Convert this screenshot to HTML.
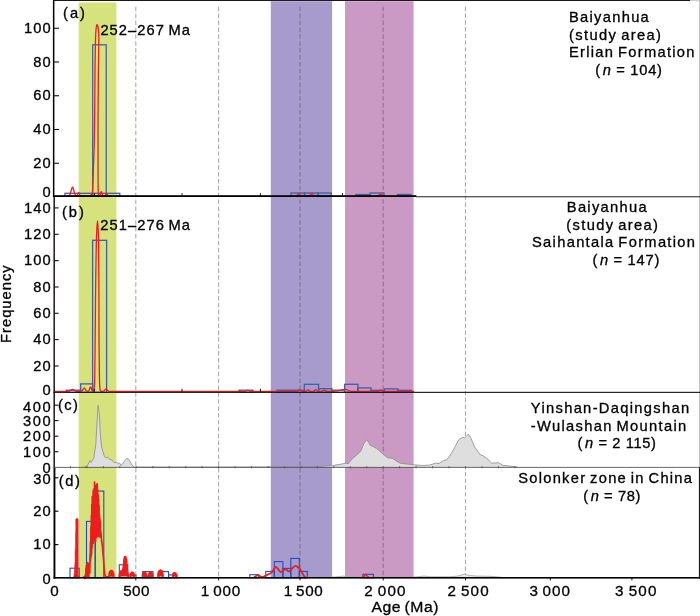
<!DOCTYPE html>
<html><head><meta charset="utf-8"><title>chart</title><style>html,body{margin:0;padding:0;background:#fff}svg{display:block;will-change:transform;font-family:"Liberation Sans",sans-serif}text{fill:#000;stroke:#000;stroke-width:0.3px;word-spacing:-1.5px}</style></head><body>
<svg width="700" height="616" viewBox="0 0 700 616" font-family="Liberation Sans, sans-serif" fill="#111">
<rect width="700" height="616" fill="#fff"/>
<rect x="78.7" y="2.5" width="37.70" height="574.5" fill="#d6e27c"/>
<rect x="270.8" y="1.2" width="61.30" height="575.8" fill="#a79bcd"/>
<rect x="345" y="1.2" width="68.60" height="575.8" fill="#cb9ac4"/>
<line x1="135.8" y1="6.8" x2="135.8" y2="577" stroke="#444" stroke-opacity="0.45" stroke-width="1.1" stroke-dasharray="4.448 2.438"/>
<line x1="218.6" y1="6.8" x2="218.6" y2="577" stroke="#444" stroke-opacity="0.45" stroke-width="1.1" stroke-dasharray="4.448 2.438"/>
<line x1="300" y1="6.8" x2="300" y2="577" stroke="#444" stroke-opacity="0.45" stroke-width="1.1" stroke-dasharray="4.448 2.438"/>
<line x1="383.2" y1="6.8" x2="383.2" y2="577" stroke="#444" stroke-opacity="0.45" stroke-width="1.1" stroke-dasharray="4.441 2.434"/>
<line x1="465.5" y1="6.8" x2="465.5" y2="577" stroke="#444" stroke-opacity="0.45" stroke-width="1.1" stroke-dasharray="4.355 2.387"/>
<rect x="92.7" y="44.8" width="13.50" height="151.30" fill="none" stroke="#3f5ea6" stroke-width="1.25"/>
<rect x="65" y="193.3" width="54.80" height="2.80" fill="none" stroke="#3f5ea6" stroke-width="1.3"/>
<rect x="291" y="193" width="13.50" height="3.10" fill="none" stroke="#3f5ea6" stroke-width="1.3"/>
<rect x="304.5" y="193" width="13.50" height="3.10" fill="none" stroke="#3f5ea6" stroke-width="1.3"/>
<rect x="318" y="193" width="13.30" height="3.10" fill="none" stroke="#3f5ea6" stroke-width="1.3"/>
<rect x="356" y="194.5" width="14.00" height="1.60" fill="none" stroke="#3f5ea6" stroke-width="1.3"/>
<rect x="370" y="193" width="14.00" height="3.10" fill="none" stroke="#3f5ea6" stroke-width="1.3"/>
<rect x="397.5" y="194.5" width="13.50" height="1.60" fill="none" stroke="#3f5ea6" stroke-width="1.3"/>
<path d="M66.00,195.90 L68.30,195.83 L69.00,195.59 L69.70,194.88 L70.40,193.28 L71.10,190.76 L71.80,188.21 L72.50,187.10 L73.20,188.21 L73.90,190.76 L74.60,193.28 L75.30,194.88 L76.00,195.59 L76.70,195.83 L76.20,195.87 L76.60,195.78 L77.00,195.50 L77.40,194.89 L77.80,193.91 L78.20,192.93 L78.60,192.50 L79.00,192.93 L79.40,193.91 L79.80,194.89 L80.20,195.50 L80.60,195.78 L81.00,195.87 L89.50,195.90" fill="none" stroke="#ee1d1d" stroke-width="1.3" stroke-linejoin="round" stroke-linecap="round" />
<path d="M89.50,195.90 C89.70,195.80 90.28,195.70 90.70,195.30 C91.12,194.90 91.67,194.60 92.00,193.50 C92.33,192.40 92.47,192.78 92.70,188.70 C92.93,184.62 93.13,177.12 93.40,169.00 C93.67,160.88 94.07,151.50 94.30,140.00 C94.53,128.50 94.68,111.17 94.80,100.00 C94.92,88.83 94.90,82.33 95.00,73.00 C95.10,63.67 95.23,51.17 95.40,44.00 C95.57,36.83 95.73,33.22 96.00,30.00 C96.27,26.78 96.65,25.12 97.00,24.70 C97.35,24.28 97.82,26.12 98.10,27.50 C98.38,28.88 98.58,30.25 98.70,33.00 C98.82,35.75 98.85,37.33 98.80,44.00 C98.75,50.67 98.52,62.00 98.40,73.00 C98.28,84.00 98.17,97.17 98.10,110.00 C98.03,122.83 98.00,137.50 98.00,150.00 C98.00,162.50 98.03,177.75 98.10,185.00 C98.17,192.25 98.25,191.68 98.40,193.50 C98.55,195.32 98.90,195.50 99.00,195.90" fill="none" stroke="#ee1d1d" stroke-width="1.3" stroke-linecap="round" stroke-linejoin="round"/>
<path d="M99.00,195.90 L99.10,195.87 L99.47,195.75 L99.83,195.41 L100.20,194.65 L100.57,193.45 L100.93,192.23 L101.30,191.70 L101.67,192.23 L102.03,193.45 L102.40,194.65 L102.77,195.41 L103.13,195.75 L103.50,195.87 L104.30,195.88 L104.67,195.80 L105.03,195.57 L105.40,195.07 L105.77,194.26 L106.13,193.45 L106.50,193.10 L106.87,193.45 L107.23,194.26 L107.60,195.07 L107.97,195.57 L108.33,195.80 L108.70,195.88 L110.00,195.90" fill="none" stroke="#ee1d1d" stroke-width="1.3" stroke-linejoin="round" stroke-linecap="round" />
<path d="M295.30,195.88 L295.88,195.82 L296.47,195.64 L297.05,195.24 L297.63,194.62 L298.22,193.98 L298.80,193.70 L299.38,193.98 L299.97,194.62 L300.55,195.24 L301.13,195.64 L301.72,195.82 L302.30,195.88" fill="none" stroke="#ee1d1d" stroke-width="1.3" stroke-linejoin="round" stroke-linecap="round" />
<path d="M308.30,195.88 L308.88,195.82 L309.47,195.62 L310.05,195.18 L310.63,194.50 L311.22,193.80 L311.80,193.50 L312.38,193.80 L312.97,194.50 L313.55,195.18 L314.13,195.62 L314.72,195.82 L315.30,195.88" fill="none" stroke="#ee1d1d" stroke-width="1.3" stroke-linejoin="round" stroke-linecap="round" />
<path d="M377.00,195.88 L377.58,195.83 L378.17,195.67 L378.75,195.30 L379.33,194.73 L379.92,194.15 L380.50,193.90 L381.08,194.15 L381.67,194.73 L382.25,195.30 L382.83,195.67 L383.42,195.83 L384.00,195.88" fill="none" stroke="#ee1d1d" stroke-width="1.3" stroke-linejoin="round" stroke-linecap="round" />
<rect x="66.4" y="390.2" width="14.30" height="2.10" fill="none" stroke="#3f5ea6" stroke-width="1.3"/>
<rect x="80.7" y="383.9" width="11.90" height="8.40" fill="none" stroke="#3f5ea6" stroke-width="1.3"/>
<rect x="92.6" y="240.3" width="14.00" height="152.00" fill="none" stroke="#3f5ea6" stroke-width="1.3"/>
<rect x="238.9" y="390.2" width="14.00" height="2.10" fill="none" stroke="#3f5ea6" stroke-width="1.3"/>
<rect x="277.1" y="390.2" width="27.20" height="2.10" fill="none" stroke="#3f5ea6" stroke-width="1.3"/>
<rect x="304.3" y="384.3" width="14.30" height="8.00" fill="none" stroke="#3f5ea6" stroke-width="1.3"/>
<rect x="318.6" y="388.7" width="13.30" height="3.60" fill="none" stroke="#3f5ea6" stroke-width="1.3"/>
<rect x="331.9" y="390.2" width="12.70" height="2.10" fill="none" stroke="#3f5ea6" stroke-width="1.3"/>
<rect x="344.6" y="384.3" width="13.30" height="8.00" fill="none" stroke="#3f5ea6" stroke-width="1.3"/>
<rect x="357.9" y="387.9" width="13.10" height="4.40" fill="none" stroke="#3f5ea6" stroke-width="1.3"/>
<rect x="371" y="390.3" width="13.30" height="2.00" fill="none" stroke="#3f5ea6" stroke-width="1.3"/>
<rect x="384.3" y="388.9" width="13.60" height="3.40" fill="none" stroke="#3f5ea6" stroke-width="1.3"/>
<rect x="397.9" y="390.3" width="13.50" height="2.00" fill="none" stroke="#3f5ea6" stroke-width="1.3"/>
<path d="M54.50,391.30 L67.00,391.30 L68.00,391.28 L68.75,391.23 L69.50,391.07 L70.25,390.70 L71.00,390.13 L71.75,389.55 L72.50,389.30 L73.25,389.55 L74.00,390.13 L74.75,390.70 L75.50,391.07 L76.25,391.23 L77.00,391.28 L80.60,391.27 L81.20,391.19 L81.80,390.93 L82.40,390.35 L83.00,389.43 L83.60,388.50 L84.20,388.10 L84.80,388.50 L85.40,389.43 L86.00,390.35 L86.60,390.93 L87.20,391.19 L87.80,391.27 L87.90,391.27 L88.33,391.15 L88.77,390.79 L89.20,389.99 L89.63,388.73 L90.07,387.45 L90.50,386.90 L90.93,387.45 L91.37,388.73 L91.80,389.99 L92.23,390.79 L92.67,391.15 L93.10,391.27 L92.90,391.30" fill="none" stroke="#ee1d1d" stroke-width="1.3" stroke-linejoin="round" stroke-linecap="round" />
<path d="M92.90,391.30 C93.02,391.18 93.37,391.32 93.60,390.60 C93.83,389.88 94.10,389.77 94.30,387.00 C94.50,384.23 94.65,382.67 94.80,374.00 C94.95,365.33 95.07,349.00 95.20,335.00 C95.33,321.00 95.42,305.17 95.60,290.00 C95.78,274.83 96.08,254.33 96.30,244.00 C96.52,233.67 96.70,231.87 96.90,228.00 C97.10,224.13 97.30,220.80 97.50,220.80 C97.70,220.80 97.92,224.13 98.10,228.00 C98.28,231.87 98.47,233.67 98.60,244.00 C98.73,254.33 98.83,274.83 98.90,290.00 C98.97,305.17 98.92,321.00 99.00,335.00 C99.08,349.00 99.28,365.50 99.40,374.00 C99.52,382.50 99.55,383.23 99.70,386.00 C99.85,388.77 100.08,389.72 100.30,390.60 C100.52,391.48 100.88,391.18 101.00,391.30" fill="none" stroke="#ee1d1d" stroke-width="1.3" stroke-linecap="round" stroke-linejoin="round"/>
<path d="M101.00,391.30 L102.60,391.28 L103.17,391.22 L103.73,391.03 L104.30,390.61 L104.87,389.96 L105.43,389.29 L106.00,389.00 L106.57,389.29 L107.13,389.96 L107.70,390.61 L108.27,391.03 L108.83,391.22 L109.40,391.28 L240.00,391.30 L244.90,391.29 L245.40,391.27 L245.90,391.21 L246.40,391.06 L246.90,390.83 L247.40,390.60 L247.90,390.50 L248.40,390.60 L248.90,390.83 L249.40,391.06 L249.90,391.21 L250.40,391.27 L250.90,391.29 L296.60,391.29 L297.10,391.24 L297.60,391.11 L298.10,390.82 L298.60,390.37 L299.10,389.90 L299.60,389.70 L300.10,389.90 L300.60,390.37 L301.10,390.82 L301.60,391.11 L302.10,391.24 L302.60,391.29 L304.90,391.29 L305.40,391.25 L305.90,391.13 L306.40,390.85 L306.90,390.42 L307.40,389.99 L307.90,389.80 L308.40,389.99 L308.90,390.42 L309.40,390.85 L309.90,391.13 L310.40,391.25 L310.90,391.29 L312.70,391.29 L313.20,391.24 L313.70,391.11 L314.20,390.82 L314.70,390.37 L315.20,389.90 L315.70,389.70 L316.20,389.90 L316.70,390.37 L317.20,390.82 L317.70,391.11 L318.20,391.24 L318.70,391.29 L321.30,391.29 L321.80,391.25 L322.30,391.15 L322.80,390.91 L323.30,390.54 L323.80,390.16 L324.30,390.00 L324.80,390.16 L325.30,390.54 L325.80,390.91 L326.30,391.15 L326.80,391.25 L327.30,391.29 L333.00,391.30 L337.00,390.80 L341.00,390.20 L343.50,389.50 L345.00,389.00 L346.50,389.50 L348.50,390.50 L351.00,391.30 L377.70,391.29 L378.20,391.25 L378.70,391.15 L379.20,390.91 L379.70,390.54 L380.20,390.16 L380.70,390.00 L381.20,390.16 L381.70,390.54 L382.20,390.91 L382.70,391.15 L383.20,391.25 L383.70,391.29 L413.60,391.30" fill="none" stroke="#ee1d1d" stroke-width="1.3" stroke-linejoin="round" stroke-linecap="round" />
<path d="M84.1,467.1 L87.3,465.8 L89.9,460.6 L91.2,462.5 L93.8,458 L95.8,444.4 L97.1,421 L98.1,405.4 L99.4,414.5 L100.3,434 L101.6,446.9 L102.9,451.5 L104.2,456 L106.2,458 L107.5,457.1 L109.4,459.3 L112,459.9 L114,462.5 L116.6,462.3 L118.5,463.8 L119.5,462.8 L121.1,465.5 L124.4,461.2 L127.3,458 L129.5,460.6 L132.1,465.1 L134.1,467.1 L160,467.1 L250,467.0 L300,466.8 L320,466.6 L332.6,465.5 L340.4,464.3 L345.9,463.2 L348.3,463.8 L351.4,459.6 L356.9,454.9 L360.9,450.9 L364,443.1 L367.1,439.6 L370.3,445.4 L373.4,446.7 L376.6,448.6 L379.7,450.9 L382.9,454.1 L387.6,457.7 L392.3,458.3 L395.4,460.4 L400.1,463.2 L406.4,464 L414.3,464.8 L422.1,465.5 L429.4,465.1 L435.7,463.2 L438.9,463.5 L443.6,460.4 L446.7,459.9 L451.4,453.3 L455.4,446.2 L458.5,439.9 L462.4,437.3 L464.8,437.9 L468.4,434.1 L471.1,438.4 L474.2,446.2 L477.4,450.9 L480.5,454.9 L482.9,455.6 L488.4,459.6 L491.5,463.2 L498.6,462.7 L503.3,465.4 L511.1,466.2 L517.4,467.1 L517.4,467.3 L84.1,467.3 Z" fill="#dedede" stroke="none"/>
<path d="M84.10,467.10 L87.30,465.80 L89.90,460.60 L91.20,462.50 L93.80,458.00 L95.80,444.40 L97.10,421.00 L98.10,405.40 L99.40,414.50 L100.30,434.00 L101.60,446.90 L102.90,451.50 L104.20,456.00 L106.20,458.00 L107.50,457.10 L109.40,459.30 L112.00,459.90 L114.00,462.50 L116.60,462.30 L118.50,463.80 L119.50,462.80 L121.10,465.50 L124.40,461.20 L127.30,458.00 L129.50,460.60 L132.10,465.10 L134.10,467.10 L160.00,467.10 L250.00,467.00 L300.00,466.80 L320.00,466.60 L332.60,465.50 L340.40,464.30 L345.90,463.20 L348.30,463.80 L351.40,459.60 L356.90,454.90 L360.90,450.90 L364.00,443.10 L367.10,439.60 L370.30,445.40 L373.40,446.70 L376.60,448.60 L379.70,450.90 L382.90,454.10 L387.60,457.70 L392.30,458.30 L395.40,460.40 L400.10,463.20 L406.40,464.00 L414.30,464.80 L422.10,465.50 L429.40,465.10 L435.70,463.20 L438.90,463.50 L443.60,460.40 L446.70,459.90 L451.40,453.30 L455.40,446.20 L458.50,439.90 L462.40,437.30 L464.80,437.90 L468.40,434.10 L471.10,438.40 L474.20,446.20 L477.40,450.90 L480.50,454.90 L482.90,455.60 L488.40,459.60 L491.50,463.20 L498.60,462.70 L503.30,465.40 L511.10,466.20 L517.40,467.10" fill="none" stroke="#8a8a8a" stroke-width="0.8" stroke-linejoin="round" stroke-linecap="round" />
<path d="M330.00,577.20 L338.00,576.80 L343.00,576.00 L348.00,576.80 L415.00,577.00 L420.00,576.60 L424.00,576.00 L430.00,576.80 L450.00,576.80 L458.00,576.00 L462.00,574.80 L464.50,574.20 L468.00,575.20 L476.00,576.00 L490.00,576.30 L501.00,577.20" fill="#e6e6e6" stroke="#9a9a9a" stroke-width="0.7" stroke-linejoin="round" stroke-linecap="round" />
<rect x="70" y="568.2" width="9.20" height="9.60" fill="none" stroke="#1d4fc4" stroke-width="1.1"/>
<rect x="86.5" y="521.4" width="8.70" height="56.40" fill="none" stroke="#1d4fc4" stroke-width="1.1"/>
<rect x="95.2" y="491.1" width="8.60" height="86.70" fill="none" stroke="#1d4fc4" stroke-width="1.1"/>
<rect x="119.3" y="564.8" width="8.50" height="13.00" fill="none" stroke="#1d4fc4" stroke-width="1.1"/>
<rect x="127.8" y="575" width="8.20" height="2.80" fill="none" stroke="#1d4fc4" stroke-width="1.1"/>
<rect x="142.7" y="571.6" width="10.30" height="6.20" fill="none" stroke="#1d4fc4" stroke-width="1.1"/>
<rect x="158.7" y="571.6" width="9.90" height="6.20" fill="none" stroke="#1d4fc4" stroke-width="1.1"/>
<rect x="168.6" y="574.9" width="8.40" height="2.90" fill="none" stroke="#1d4fc4" stroke-width="1.1"/>
<rect x="249.8" y="574.7" width="8.80" height="3.10" fill="none" stroke="#1d4fc4" stroke-width="1.1"/>
<rect x="265.8" y="571.4" width="8.50" height="6.40" fill="none" stroke="#1d4fc4" stroke-width="1.1"/>
<rect x="274.3" y="561.6" width="8.60" height="16.20" fill="none" stroke="#1d4fc4" stroke-width="1.1"/>
<rect x="282.9" y="568.4" width="7.90" height="9.40" fill="none" stroke="#1d4fc4" stroke-width="1.1"/>
<rect x="290.8" y="558.4" width="8.50" height="19.40" fill="none" stroke="#1d4fc4" stroke-width="1.1"/>
<rect x="299.3" y="571.4" width="8.00" height="6.40" fill="none" stroke="#1d4fc4" stroke-width="1.1"/>
<rect x="362.9" y="574.3" width="10.50" height="3.50" fill="none" stroke="#1d4fc4" stroke-width="1.1"/>
<path d="M73.70,577.00 L74.40,572.00 L74.70,566.00 L75.10,560.00 L75.00,552.00 L75.50,545.00 L75.40,536.00 L75.80,528.00 L75.70,519.60 L76.20,518.60 L77.80,518.60 L78.20,519.60 L78.30,574.80 L78.90,577.00 Z" fill="#ee1d1d" stroke="#ee1d1d" stroke-width="0.5" stroke-linejoin="round"/>
<path d="M84.00,576.80 L84.40,576.60 L84.62,578.39 L84.85,576.60 L85.07,578.31 L85.30,576.07 L85.52,574.69 L85.75,574.94 L85.97,568.16 L86.20,575.53 L86.42,565.30 L86.65,576.60 L86.87,564.47 L87.10,572.39 L87.32,566.21 L87.55,576.60 L87.77,562.71 L88.00,571.20 L88.22,565.65 L88.45,574.60 L88.67,564.15 L88.90,576.41 L89.12,566.25 L89.35,573.46 L89.57,564.22 L89.80,572.91 L90.02,554.60 L90.25,562.18 L90.47,542.16 L90.70,559.01 L90.92,527.07 L91.15,555.99 L91.37,515.55 L91.60,553.79 L91.82,504.55 L92.05,547.96 L92.27,496.52 L92.50,543.29 L92.72,497.36 L92.95,541.39 L93.17,491.11 L93.40,543.03 L93.62,489.13 L93.85,539.19 L94.07,488.76 L94.30,539.55 L94.52,482.12 L94.75,536.50 L94.97,485.12 L95.20,540.55 L95.42,487.50 L95.65,541.27 L95.87,490.26 L96.10,535.54 L96.32,486.38 L96.55,537.09 L96.77,484.42 L97.00,535.05 L97.22,483.69 L97.45,535.22 L97.67,489.66 L97.90,536.69 L98.12,494.74 L98.35,533.85 L98.57,499.50 L98.80,535.56 L99.02,505.51 L99.25,532.87 L99.47,514.91 L99.70,536.33 L99.92,518.57 L100.15,537.25 L100.37,521.76 L100.30,530.00 L101.10,534.00 L101.60,541.00 L102.40,546.00 L102.80,552.00 L103.60,560.00 L104.20,569.00 L104.80,574.50 L105.60,576.80" fill="none" stroke="#ee1d1d" stroke-width="1.7" stroke-linejoin="round" stroke-linecap="round" />
<path d="M109.30,576.40 L109.35,574.72 L109.51,573.53 L109.76,572.56 L110.09,571.80 L110.49,571.25 L110.93,570.91 L111.40,570.80 L111.87,570.91 L112.31,571.25 L112.71,571.80 L113.04,572.56 L113.29,573.53 L113.45,574.72 L113.50,576.40" fill="#ee1d1d" stroke="#ee1d1d" stroke-width="2.2" stroke-linejoin="round" stroke-linecap="round"/>
<path d="M119.60,576.40 L119.90,573.00 L121.00,571.20 L122.60,571.50 L123.60,567.00 L124.20,560.00 L124.80,557.00 L125.60,557.00 L126.40,561.00 L126.80,568.00 L127.40,572.00 L128.20,576.40" fill="#ee1d1d" stroke="#ee1d1d" stroke-width="2.2" stroke-linejoin="round" stroke-linecap="round"/>
<path d="M130.60,576.40 L130.64,575.26 L130.77,574.45 L130.97,573.80 L131.24,573.28 L131.56,572.90 L131.92,572.68 L132.30,572.60 L132.68,572.68 L133.04,572.90 L133.36,573.28 L133.63,573.80 L133.83,574.45 L133.96,575.26 L134.00,576.40" fill="#ee1d1d" stroke="#ee1d1d" stroke-width="2.2" stroke-linejoin="round" stroke-linecap="round"/>
<path d="M142.70,576.40 L142.75,575.23 L142.88,574.40 L143.09,573.73 L143.38,573.20 L143.72,572.81 L144.10,572.58 L144.50,572.50 L144.90,572.58 L145.28,572.81 L145.62,573.20 L145.91,573.73 L146.12,574.40 L146.25,575.23 L146.30,576.40" fill="#ee1d1d" stroke="#ee1d1d" stroke-width="2.2" stroke-linejoin="round" stroke-linecap="round"/>
<path d="M148.80,576.40 L148.85,575.23 L148.98,574.40 L149.19,573.73 L149.48,573.20 L149.82,572.81 L150.20,572.58 L150.60,572.50 L151.00,572.58 L151.38,572.81 L151.72,573.20 L152.01,573.73 L152.22,574.40 L152.35,575.23 L152.40,576.40" fill="#ee1d1d" stroke="#ee1d1d" stroke-width="2.2" stroke-linejoin="round" stroke-linecap="round"/>
<path d="M142.80,576.40 L152.40,576.40" fill="#ee1d1d" stroke="#ee1d1d" stroke-width="1.6" stroke-linejoin="round" stroke-linecap="round"/>
<path d="M158.20,576.40 L158.26,574.60 L158.43,573.32 L158.70,572.29 L159.07,571.47 L159.50,570.88 L159.99,570.52 L160.50,570.40 L161.01,570.52 L161.50,570.88 L161.93,571.47 L162.30,572.29 L162.57,573.32 L162.74,574.60 L162.80,576.40" fill="#ee1d1d" stroke="#ee1d1d" stroke-width="2.2" stroke-linejoin="round" stroke-linecap="round"/>
<path d="M172.90,576.40 L172.94,575.38 L173.06,574.66 L173.25,574.07 L173.50,573.61 L173.81,573.27 L174.14,573.07 L174.50,573.00 L174.86,573.07 L175.19,573.27 L175.50,573.61 L175.75,574.07 L175.94,574.66 L176.06,575.38 L176.10,576.40" fill="#ee1d1d" stroke="#ee1d1d" stroke-width="2.2" stroke-linejoin="round" stroke-linecap="round"/>
<path d="M105.60,576.80 L108.50,576.80" fill="none" stroke="#ee1d1d" stroke-width="1.6" stroke-linejoin="round" stroke-linecap="round" />
<path d="M254.30,577.20 C254.58,577.00 255.40,576.37 256.00,576.00 C256.60,575.63 257.27,575.00 257.90,575.00 C258.53,575.00 259.22,575.67 259.80,576.00 C260.38,576.33 260.70,576.90 261.40,577.00 C262.10,577.10 263.07,576.93 264.00,576.60 C264.93,576.27 266.08,575.47 267.00,575.00 C267.92,574.53 268.77,574.18 269.50,573.80 C270.23,573.42 270.73,573.33 271.40,572.70 C272.07,572.07 272.78,570.95 273.50,570.00 C274.22,569.05 274.95,567.17 275.70,567.00 C276.45,566.83 277.17,568.17 278.00,569.00 C278.83,569.83 279.87,571.75 280.70,572.00 C281.53,572.25 282.28,570.95 283.00,570.50 C283.72,570.05 284.30,569.35 285.00,569.30 C285.70,569.25 286.48,569.85 287.20,570.20 C287.92,570.55 288.50,571.68 289.30,571.40 C290.10,571.12 291.05,569.40 292.00,568.50 C292.95,567.60 294.07,566.25 295.00,566.00 C295.93,565.75 296.77,566.45 297.60,567.00 C298.43,567.55 299.22,568.30 300.00,569.30 C300.78,570.30 301.63,571.88 302.30,573.00 C302.97,574.12 303.43,575.27 304.00,576.00 C304.57,576.73 305.42,577.17 305.70,577.40" fill="none" stroke="#ee1d1d" stroke-width="1.8" stroke-linecap="round"/>
<path d="M363.10,576.78 L363.53,576.71 L363.97,576.50 L364.40,576.02 L364.83,575.28 L365.27,574.53 L365.70,574.20 L366.13,574.53 L366.57,575.28 L367.00,576.02 L367.43,576.50 L367.87,576.71 L368.30,576.78" fill="none" stroke="#ee1d1d" stroke-width="1.4" stroke-linejoin="round" stroke-linecap="round" />
<rect x="53" y="0" width="637" height="0.9" fill="#000"/>
<rect x="690" y="0.3" width="10" height="0.8" fill="#bbb"/>
<rect x="699.1" y="1" width="0.9" height="466" fill="#bdbdbd"/>
<rect x="698.9" y="467" width="1.1" height="111.6" fill="#1a1a1a"/>
<rect x="52.9" y="0" width="1.5" height="197" fill="#000"/>
<rect x="53.4" y="197" width="1.6" height="270.3" fill="#2e2525"/>
<rect x="53.5" y="467.3" width="1.9" height="111.2999999999999" fill="#000"/>
<rect x="53" y="195.2" width="363.4" height="1.8" fill="#000"/>
<rect x="416" y="196.2" width="284" height="1.1" fill="#333"/>
<rect x="53.5" y="391.8" width="646.5" height="1.1" fill="#111"/>
<rect x="53.5" y="466.9" width="646.5" height="0.8" fill="#444"/>
<rect x="53.5" y="577" width="646.5" height="1.6" fill="#000"/>
<rect x="54" y="27.7" width="5" height="1.1" fill="#111"/>
<rect x="54" y="61.45" width="5" height="1.1" fill="#111"/>
<rect x="54" y="95.2" width="5" height="1.1" fill="#111"/>
<rect x="54" y="128.95" width="5" height="1.1" fill="#111"/>
<rect x="54" y="162.7" width="5" height="1.1" fill="#111"/>
<rect x="54" y="207.35" width="4.600000000000001" height="1.1" fill="#111"/>
<rect x="54" y="233.75" width="4.600000000000001" height="1.1" fill="#111"/>
<rect x="54" y="260.05" width="4.600000000000001" height="1.1" fill="#111"/>
<rect x="54" y="286.45" width="4.600000000000001" height="1.1" fill="#111"/>
<rect x="54" y="312.75" width="4.600000000000001" height="1.1" fill="#111"/>
<rect x="54" y="339.05" width="4.600000000000001" height="1.1" fill="#111"/>
<rect x="54" y="365.45" width="4.600000000000001" height="1.1" fill="#111"/>
<rect x="54" y="404.65" width="4.399999999999999" height="1.1" fill="#111"/>
<rect x="54" y="420.05" width="4.399999999999999" height="1.1" fill="#111"/>
<rect x="54" y="435.65" width="4.399999999999999" height="1.1" fill="#111"/>
<rect x="54" y="451.15" width="4.399999999999999" height="1.1" fill="#111"/>
<rect x="54" y="477.25" width="4.399999999999999" height="1.1" fill="#000"/>
<rect x="54" y="510.65" width="4.399999999999999" height="1.1" fill="#000"/>
<rect x="54" y="544.0500000000001" width="4.399999999999999" height="1.1" fill="#000"/>
<rect x="93.9" y="193.2" width="1" height="2.4" fill="#111"/>
<rect x="93.9" y="388.8" width="1" height="3" fill="#111"/>
<rect x="181.5" y="193.2" width="1" height="2.4" fill="#111"/>
<rect x="181.5" y="388.8" width="1" height="3" fill="#111"/>
<rect x="259.9" y="193.2" width="1" height="2.4" fill="#111"/>
<rect x="259.9" y="388.8" width="1" height="3" fill="#111"/>
<rect x="342.0" y="193.2" width="1" height="2.4" fill="#111"/>
<rect x="69.96" y="466.2" width="1" height="2.0" fill="#555"/>
<rect x="86.42" y="466.2" width="1" height="2.0" fill="#555"/>
<rect x="102.88" y="466.2" width="1" height="2.0" fill="#555"/>
<rect x="119.34" y="466.2" width="1" height="2.0" fill="#555"/>
<rect x="135.80" y="466.2" width="1" height="2.0" fill="#555"/>
<rect x="152.26" y="466.2" width="1" height="2.0" fill="#555"/>
<rect x="168.72" y="466.2" width="1" height="2.0" fill="#555"/>
<rect x="185.18" y="466.2" width="1" height="2.0" fill="#555"/>
<rect x="201.64" y="466.2" width="1" height="2.0" fill="#555"/>
<rect x="218.10" y="466.2" width="1" height="2.0" fill="#555"/>
<rect x="234.56" y="466.2" width="1" height="2.0" fill="#555"/>
<rect x="251.02" y="466.2" width="1" height="2.0" fill="#555"/>
<rect x="267.48" y="466.2" width="1" height="2.0" fill="#555"/>
<rect x="283.94" y="466.2" width="1" height="2.0" fill="#555"/>
<rect x="300.40" y="466.2" width="1" height="2.0" fill="#555"/>
<rect x="316.86" y="466.2" width="1" height="2.0" fill="#555"/>
<rect x="333.32" y="466.2" width="1" height="2.0" fill="#555"/>
<rect x="349.78" y="466.2" width="1" height="2.0" fill="#555"/>
<rect x="366.24" y="466.2" width="1" height="2.0" fill="#555"/>
<rect x="382.70" y="466.2" width="1" height="2.0" fill="#555"/>
<rect x="399.16" y="466.2" width="1" height="2.0" fill="#555"/>
<rect x="415.62" y="466.2" width="1" height="2.0" fill="#555"/>
<rect x="432.08" y="466.2" width="1" height="2.0" fill="#555"/>
<rect x="448.54" y="466.2" width="1" height="2.0" fill="#555"/>
<rect x="465.00" y="466.2" width="1" height="2.0" fill="#555"/>
<rect x="481.46" y="466.2" width="1" height="2.0" fill="#555"/>
<rect x="497.92" y="466.2" width="1" height="2.0" fill="#555"/>
<rect x="514.38" y="466.2" width="1" height="2.0" fill="#555"/>
<rect x="135.3" y="578" width="1" height="2.4" fill="#111"/>
<rect x="218.1" y="578" width="1" height="2.4" fill="#111"/>
<rect x="299.5" y="578" width="1" height="2.4" fill="#111"/>
<rect x="382.7" y="578" width="1" height="2.4" fill="#111"/>
<rect x="465.0" y="578" width="1" height="2.4" fill="#111"/>
<rect x="549.8" y="578" width="1" height="2.4" fill="#111"/>
<rect x="631.4" y="578" width="1" height="2.4" fill="#111"/>
<text transform="translate(24.10,32.95) scale(1.05,1)" font-size="14" textLength="25.33" lengthAdjust="spacing" >100</text>
<text transform="translate(33.30,66.7) scale(1.05,1)" font-size="14" textLength="16.57" lengthAdjust="spacing" >80</text>
<text transform="translate(33.30,100.45) scale(1.05,1)" font-size="14" textLength="16.57" lengthAdjust="spacing" >60</text>
<text transform="translate(33.30,134.2) scale(1.05,1)" font-size="14" textLength="16.57" lengthAdjust="spacing" >40</text>
<text transform="translate(33.30,167.95) scale(1.05,1)" font-size="14" textLength="16.57" lengthAdjust="spacing" >20</text>
<text transform="translate(42.50,197.2) scale(1.05,1)" font-size="14" textLength="7.81" lengthAdjust="spacing" >0</text>
<text transform="translate(24.10,212.6) scale(1.05,1)" font-size="14" textLength="25.33" lengthAdjust="spacing" >140</text>
<text transform="translate(24.10,239.0) scale(1.05,1)" font-size="14" textLength="25.33" lengthAdjust="spacing" >120</text>
<text transform="translate(24.10,265.3) scale(1.05,1)" font-size="14" textLength="25.33" lengthAdjust="spacing" >100</text>
<text transform="translate(33.30,291.7) scale(1.05,1)" font-size="14" textLength="16.57" lengthAdjust="spacing" >80</text>
<text transform="translate(33.30,318.0) scale(1.05,1)" font-size="14" textLength="16.57" lengthAdjust="spacing" >60</text>
<text transform="translate(33.30,344.3) scale(1.05,1)" font-size="14" textLength="16.57" lengthAdjust="spacing" >40</text>
<text transform="translate(33.30,370.7) scale(1.05,1)" font-size="14" textLength="16.57" lengthAdjust="spacing" >20</text>
<text transform="translate(42.50,395.3) scale(1.05,1)" font-size="14" textLength="7.81" lengthAdjust="spacing" >0</text>
<text transform="translate(23.10,411.9) scale(1.05,1)" font-size="14" textLength="26.29" lengthAdjust="spacing" >400</text>
<text transform="translate(23.10,425.9) scale(1.05,1)" font-size="14" textLength="26.29" lengthAdjust="spacing" >300</text>
<text transform="translate(23.10,441.2) scale(1.05,1)" font-size="14" textLength="26.29" lengthAdjust="spacing" >200</text>
<text transform="translate(23.10,456.5) scale(1.05,1)" font-size="14" textLength="26.29" lengthAdjust="spacing" >100</text>
<text transform="translate(42.50,472.7) scale(1.05,1)" font-size="14" textLength="7.81" lengthAdjust="spacing" >0</text>
<text transform="translate(33.30,483.59999999999997) scale(1.05,1)" font-size="14" textLength="16.57" lengthAdjust="spacing" >30</text>
<text transform="translate(33.30,515.9) scale(1.05,1)" font-size="14" textLength="16.57" lengthAdjust="spacing" >20</text>
<text transform="translate(33.30,549.3000000000001) scale(1.05,1)" font-size="14" textLength="16.57" lengthAdjust="spacing" >10</text>
<text transform="translate(42.50,584.3000000000001) scale(1.05,1)" font-size="14" textLength="7.81" lengthAdjust="spacing" >0</text>
<text transform="translate(63.00,18.2) scale(1.05,1)" font-size="14" textLength="20.95" lengthAdjust="spacing" >(a)</text>
<text transform="translate(62.00,217.2) scale(1.05,1)" font-size="14" textLength="20.76" lengthAdjust="spacing" >(b)</text>
<text transform="translate(58.00,409.6) scale(1.05,1)" font-size="14" textLength="18.86" lengthAdjust="spacing" >(c)</text>
<text transform="translate(58.80,486.4) scale(1.05,1)" font-size="14" textLength="20.00" lengthAdjust="spacing" >(d)</text>
<text transform="translate(100.40,35) scale(1.05,1)" font-size="14" textLength="85.33" lengthAdjust="spacing" >252–267 Ma</text>
<text transform="translate(100.20,230.2) scale(1.05,1)" font-size="14" textLength="85.52" lengthAdjust="spacing" >251–276 Ma</text>
<text transform="translate(50.20,595.5) scale(1.05,1)" font-size="14.5" textLength="7.62" lengthAdjust="spacing" >0</text>
<text transform="translate(123.20,595.5) scale(1.05,1)" font-size="14.5" textLength="24.95" lengthAdjust="spacing" >500</text>
<text transform="translate(200.80,595.5) scale(1.05,1)" font-size="14.5" textLength="37.52" lengthAdjust="spacing" >1 000</text>
<text transform="translate(283.70,595.5) scale(1.05,1)" font-size="14.5" textLength="37.24" lengthAdjust="spacing" >1 500</text>
<text transform="translate(364.30,595.5) scale(1.05,1)" font-size="14.5" textLength="39.33" lengthAdjust="spacing" >2 000</text>
<text transform="translate(447.40,595.5) scale(1.05,1)" font-size="14.5" textLength="39.33" lengthAdjust="spacing" >2 500</text>
<text transform="translate(529.40,595.5) scale(1.05,1)" font-size="14.5" textLength="38.57" lengthAdjust="spacing" >3 000</text>
<text transform="translate(615.10,595.5) scale(1.05,1)" font-size="14.5" textLength="39.43" lengthAdjust="spacing" >3 500</text>
<text transform="translate(371.40,611.6) scale(1.05,1)" font-size="15" textLength="64.00" lengthAdjust="spacing" >Age (Ma)</text>
<text transform="translate(11,342.9) rotate(-90) scale(1.05,1)" font-size="14" textLength="73.81" lengthAdjust="spacing">Frequency</text>
<text transform="translate(569.00,22) scale(1.05,1)" font-size="14" textLength="76.00" lengthAdjust="spacing" >Baiyanhua</text>
<text transform="translate(569.00,40) scale(1.05,1)" font-size="14" textLength="87.62" lengthAdjust="spacing" >(study area)</text>
<text transform="translate(569.00,57) scale(1.05,1)" font-size="14" textLength="119.52" lengthAdjust="spacing" >Erlian Formation</text>
<text transform="translate(595.20,74.5) scale(1.05,1)" font-size="14" textLength="63.62" lengthAdjust="spacing" style="word-spacing:-0.2px">(<tspan font-style="italic" dx="1.8">n</tspan> = 104)</text>
<text transform="translate(566.80,212.3) scale(1.05,1)" font-size="14" textLength="76.00" lengthAdjust="spacing" >Baiyanhua</text>
<text transform="translate(566.30,229.8) scale(1.05,1)" font-size="14" textLength="87.33" lengthAdjust="spacing" >(study area)</text>
<text transform="translate(532.00,247.3) scale(1.05,1)" font-size="14" textLength="155.24" lengthAdjust="spacing" >Saihantala Formation</text>
<text transform="translate(592.40,264.8) scale(1.05,1)" font-size="14" textLength="63.81" lengthAdjust="spacing" style="word-spacing:-0.2px">(<tspan font-style="italic" dx="1.8">n</tspan> = 147)</text>
<text transform="translate(530.80,413.3) scale(1.05,1)" font-size="14" textLength="150.86" lengthAdjust="spacing" >Yinshan-Daqingshan</text>
<text transform="translate(530.80,430.7) scale(1.05,1)" font-size="14" textLength="148.00" lengthAdjust="spacing" >-Wulashan Mountain</text>
<text transform="translate(577.60,447.9) scale(1.05,1)" font-size="14" textLength="74.67" lengthAdjust="spacing" style="word-spacing:-0.2px">(<tspan font-style="italic" dx="1.8">n</tspan> = 2 115)</text>
<text transform="translate(518.20,482.8) scale(1.05,1)" font-size="14" textLength="165.52" lengthAdjust="spacing" >Solonker zone in China</text>
<text transform="translate(583.30,500.7) scale(1.05,1)" font-size="14" textLength="54.48" lengthAdjust="spacing" style="word-spacing:-0.2px">(<tspan font-style="italic" dx="1.8">n</tspan> = 78)</text>
</svg>
</body></html>
